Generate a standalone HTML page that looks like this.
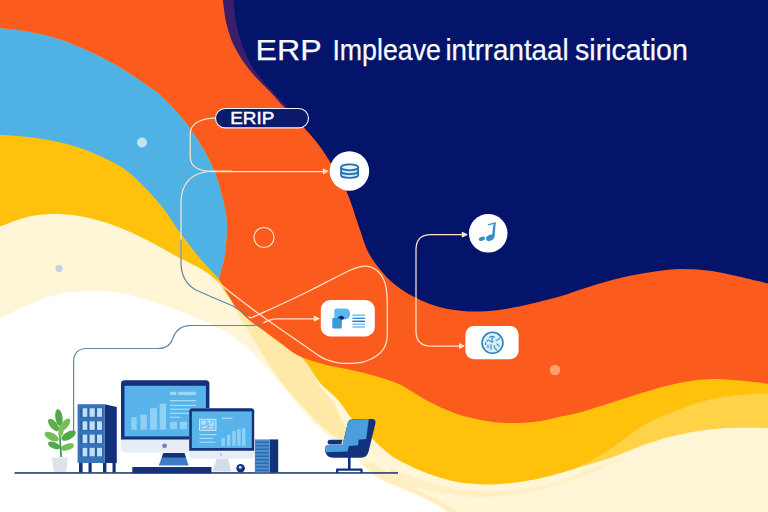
<!DOCTYPE html>
<html><head><meta charset="utf-8"><title>ERP</title>
<style>html,body{margin:0;padding:0;background:#fff;}body{width:768px;height:512px;overflow:hidden;font-family:"Liberation Sans",sans-serif;}svg{display:block;}</style>
</head><body>
<svg width="768" height="512" viewBox="0 0 768 512">
<rect width="768" height="512" fill="#FFFFFF"/>
<path fill="#FFF5D7" d="M-10.0,324.0 C-8.3,323.1 -6.7,321.8 0.0,318.5 C6.7,315.2 20.2,308.1 30.0,304.0 C39.8,299.9 49.3,296.2 59.0,294.0 C68.7,291.8 78.3,291.2 88.0,291.0 C97.7,290.8 107.3,291.1 117.0,292.5 C126.7,293.9 136.2,296.6 146.0,299.5 C155.8,302.4 167.0,306.7 176.0,310.0 C185.0,313.3 193.3,316.8 200.0,319.5 C206.7,322.2 210.8,323.9 216.0,326.5 C221.2,329.1 225.8,331.4 231.0,335.0 C236.2,338.6 242.3,343.8 247.0,348.0 C251.7,352.2 255.3,356.3 259.0,360.0 C262.7,363.7 264.5,365.0 269.0,370.0 C273.5,375.0 279.2,381.8 286.0,390.0 C292.8,398.2 302.8,411.3 310.0,419.0 C317.2,426.7 322.7,430.8 329.0,436.0 C335.3,441.2 342.5,445.3 348.0,450.0 C353.5,454.7 357.2,459.5 362.0,464.0 C366.8,468.5 370.3,472.9 377.0,477.0 C383.7,481.1 393.5,484.7 402.0,488.5 C410.5,492.3 419.7,495.8 428.0,500.0 C436.3,504.2 448.0,511.7 452.0,514.0 L452,530 L790,530 L790,-20 L-10,-20 Z"/>
<path fill="#FFE9A8" d="M232.0,304.0 C234.5,308.2 242.5,321.7 247.0,329.0 C251.5,336.3 255.0,341.5 259.0,348.0 C263.0,354.5 266.2,361.0 271.0,368.0 C275.8,375.0 280.8,381.5 288.0,390.0 C295.2,398.5 306.8,411.7 314.0,419.0 C321.2,426.3 325.8,430.2 331.0,434.0 C336.2,437.8 341.2,439.8 345.0,442.0 C348.8,444.2 352.5,446.2 354.0,447.0 L354.0,447.0 C353.2,444.8 351.2,438.7 349.0,434.0 C346.8,429.3 343.7,424.3 341.0,419.0 C338.3,413.7 336.3,407.2 333.0,402.0 C329.7,396.8 325.0,393.8 321.0,388.0 C317.0,382.2 313.0,372.8 309.0,367.0 C305.0,361.2 302.2,357.8 297.0,353.0 C291.8,348.2 283.8,342.3 278.0,338.0 C272.2,333.7 266.7,330.3 262.0,327.0 C257.3,323.7 255.0,321.8 250.0,318.0 C245.0,314.2 235.0,306.3 232.0,304.0 Z"/>
<path fill="#FFEFC0" d="M362.0,464.0 C364.5,466.2 370.3,472.9 377.0,477.0 C383.7,481.1 393.5,484.7 402.0,488.5 C410.5,492.3 419.7,495.8 428.0,500.0 C436.3,504.2 448.0,511.7 452.0,514.0 L462.0,514.0 C457.7,511.5 444.7,503.7 436.0,499.0 C427.3,494.3 418.0,490.3 410.0,486.0 C402.0,481.7 394.3,477.0 388.0,473.0 C381.7,469.0 374.7,463.8 372.0,462.0 Z"/>
<path fill="#FFEFC4" d="M390.0,467.0 C393.0,468.3 401.8,472.5 408.0,475.0 C414.2,477.5 419.2,479.7 427.0,482.0 C434.8,484.3 445.8,487.4 455.0,489.0 C464.2,490.6 473.0,491.2 482.0,491.5 C491.0,491.8 499.8,491.3 509.0,490.5 C518.2,489.7 527.8,488.3 537.0,486.5 C546.2,484.7 554.8,482.6 564.0,479.5 C573.2,476.4 582.0,471.8 592.0,468.0 C602.0,464.2 618.7,458.8 624.0,457.0 L624.0,458.5 C617.0,461.5 597.4,470.9 582.0,476.5 C566.6,482.1 548.3,488.6 531.5,492.0 C514.7,495.4 496.2,496.8 481.0,497.0 C465.8,497.2 451.8,494.8 440.0,493.0 C428.2,491.2 418.0,488.8 410.0,486.0 C402.0,483.2 395.0,477.7 392.0,476.0 Z"/>
<path fill="#FFD247" d="M575.0,468.5 C581.2,466.7 600.3,461.5 612.0,457.5 C623.7,453.5 633.8,448.3 645.0,444.5 C656.2,440.7 667.8,437.3 679.0,434.8 C690.2,432.3 701.0,430.5 712.0,429.3 C723.0,428.1 734.0,427.9 745.0,427.8 C756.0,427.7 772.5,428.4 778.0,428.5 L790,300 L575,300 Z"/>
<path fill="#FFC10B" d="M-10.0,230.0 C-8.3,229.4 -6.7,228.8 0.0,226.5 C6.7,224.2 20.0,218.4 30.0,216.3 C40.0,214.2 50.3,213.8 60.0,214.0 C69.7,214.2 78.5,215.7 88.0,217.8 C97.5,219.9 107.3,222.9 117.0,226.5 C126.7,230.1 136.2,234.7 146.0,239.6 C155.8,244.5 166.7,251.0 176.0,256.0 C185.3,261.0 195.2,265.3 202.0,269.5 C208.8,273.7 212.7,276.6 217.0,281.0 C221.3,285.4 224.5,291.2 228.0,296.0 C231.5,300.8 233.7,305.5 238.0,310.0 C242.3,314.5 249.0,319.0 254.0,323.0 C259.0,327.0 263.2,330.3 268.0,334.0 C272.8,337.7 278.2,341.9 283.0,345.0 C287.8,348.1 292.7,348.9 297.0,352.5 C301.3,356.1 305.2,361.5 309.0,366.6 C312.8,371.7 315.2,377.4 320.0,383.0 C324.8,388.6 332.7,394.0 338.0,400.0 C343.3,406.0 347.0,413.3 352.0,419.0 C357.0,424.7 363.2,429.3 368.0,434.0 C372.8,438.7 376.7,443.1 381.0,447.0 C385.3,450.9 389.5,454.5 394.0,457.5 C398.5,460.5 402.5,462.2 408.0,464.8 C413.5,467.4 419.2,470.4 427.0,473.2 C434.8,476.0 445.8,479.6 455.0,481.5 C464.2,483.4 473.0,484.1 482.0,484.4 C491.0,484.7 499.8,484.1 509.0,483.2 C518.2,482.3 527.8,480.9 537.0,479.0 C546.2,477.1 557.7,473.8 564.0,472.0 C570.3,470.2 573.2,469.1 575.0,468.5 L593.0,460.0 C596.2,458.0 603.3,453.9 612.0,448.0 C620.7,442.1 633.8,430.9 645.0,424.5 C656.2,418.1 667.8,413.8 679.0,409.5 C690.2,405.2 701.0,401.5 712.0,399.0 C723.0,396.5 734.0,395.5 745.0,394.5 C756.0,393.5 772.5,393.2 778.0,393.0 L790,-20 L-10,-20 Z"/>
<path fill="#4FB1E4" d="M-10.0,27.0 C-8.3,27.1 -6.5,27.1 0.0,27.9 C6.5,28.7 19.2,29.8 29.0,31.7 C38.8,33.5 49.2,35.8 59.0,39.0 C68.8,42.2 78.3,46.3 88.0,50.7 C97.7,55.1 107.3,59.8 117.0,65.4 C126.7,71.0 138.8,79.5 146.0,84.4 C153.2,89.3 154.7,89.9 160.0,94.6 C165.3,99.3 172.3,106.8 177.6,112.8 C182.9,118.8 187.2,124.2 191.6,130.4 C196.0,136.6 200.5,143.7 204.0,149.8 C207.5,156.0 210.4,162.1 212.7,167.3 C215.0,172.5 216.4,176.1 218.0,181.0 C219.6,185.9 221.2,191.7 222.5,197.0 C223.8,202.3 225.2,207.5 226.0,213.0 C226.8,218.5 227.2,223.0 227.0,230.0 C226.8,237.0 226.3,246.8 225.0,255.0 C223.7,263.2 220.0,275.0 219.0,279.0 L206.0,265.0 C204.0,262.7 198.5,256.7 194.0,251.0 C189.5,245.3 184.8,239.0 179.0,231.0 C173.2,223.0 167.3,212.8 159.0,203.0 C150.7,193.2 138.8,180.3 129.0,172.5 C119.2,164.7 110.3,160.8 100.0,156.0 C89.7,151.2 78.2,147.1 67.0,144.0 C55.8,140.9 44.2,139.0 33.0,137.5 C21.8,136.0 7.2,135.4 0.0,135.0 C-7.2,134.6 -8.3,135.0 -10.0,135.0 Z"/>
<path fill="#FB5B1C" d="M-10.0,27.0 C-8.3,27.1 -6.5,27.1 0.0,27.9 C6.5,28.7 19.2,29.8 29.0,31.7 C38.8,33.5 49.2,35.8 59.0,39.0 C68.8,42.2 78.3,46.3 88.0,50.7 C97.7,55.1 107.3,59.8 117.0,65.4 C126.7,71.0 138.8,79.5 146.0,84.4 C153.2,89.3 154.7,89.9 160.0,94.6 C165.3,99.3 172.3,106.8 177.6,112.8 C182.9,118.8 187.2,124.2 191.6,130.4 C196.0,136.6 200.5,143.7 204.0,149.8 C207.5,156.0 210.4,162.1 212.7,167.3 C215.0,172.5 216.4,176.1 218.0,181.0 C219.6,185.9 221.2,191.7 222.5,197.0 C223.8,202.3 225.2,207.5 226.0,213.0 C226.8,218.5 227.2,223.0 227.0,230.0 C226.8,237.0 226.3,246.8 225.0,255.0 C223.7,263.2 220.0,275.0 219.0,279.0 L234.0,305.0 C236.5,307.5 244.2,315.8 249.0,320.0 C253.8,324.2 258.2,326.5 263.0,330.0 C267.8,333.5 272.2,336.8 278.0,341.0 C283.8,345.2 290.5,351.7 298.0,355.5 C305.5,359.3 313.3,361.4 323.0,364.0 C332.7,366.6 346.5,368.8 356.0,371.0 C365.5,373.2 372.7,375.2 380.0,377.5 C387.3,379.8 392.2,380.8 400.0,384.6 C407.8,388.4 417.8,395.7 427.0,400.5 C436.2,405.3 445.8,410.0 455.0,413.3 C464.2,416.6 473.0,418.6 482.0,420.2 C491.0,421.8 499.8,422.8 509.0,423.0 C518.2,423.2 527.8,422.7 537.0,421.5 C546.2,420.3 556.8,417.5 564.0,416.0 C571.2,414.5 572.0,414.6 580.0,412.3 C588.0,410.1 601.2,405.9 612.0,402.5 C622.8,399.1 633.8,395.2 645.0,392.0 C656.2,388.8 667.8,385.2 679.0,383.0 C690.2,380.8 701.0,379.3 712.0,379.0 C723.0,378.7 734.0,380.0 745.0,381.0 C756.0,382.0 772.5,384.3 778.0,385.0 L790,-20 L-10,-20 Z"/>
<path fill="#3B1D6C" d="M222.0,-12.0 C222.2,-10.0 222.2,-5.9 222.9,0.0 C223.6,5.9 224.5,15.6 226.4,23.4 C228.3,31.2 230.7,39.1 234.6,46.9 C238.5,54.7 243.6,62.5 249.8,70.3 C256.0,78.1 266.5,87.8 272.0,93.7 C277.5,99.6 279.1,101.8 282.6,105.5 C286.1,109.2 291.3,114.2 293.0,116.0 L790,116 L790,-20 Z"/>
<path fill="#04146B" d="M232.5,-12.0 C232.7,-10.0 232.8,-5.9 233.4,0.0 C234.0,5.9 234.6,15.6 236.2,23.4 C237.8,31.2 239.8,39.1 242.8,46.9 C245.9,54.7 249.2,62.5 254.5,70.3 C259.8,78.1 269.1,87.8 274.4,93.7 C279.6,99.6 281.6,100.5 286.0,105.5 C290.4,110.5 295.2,116.9 301.0,124.0 C306.8,131.1 314.3,138.5 321.0,148.0 C327.7,157.5 336.2,172.3 341.0,181.0 C345.8,189.7 347.0,192.3 350.0,200.0 C353.0,207.7 355.5,217.5 359.0,227.0 C362.5,236.5 364.8,247.2 371.0,257.0 C377.2,266.8 386.2,277.7 396.0,285.5 C405.8,293.3 418.8,299.8 430.0,304.0 C441.2,308.2 451.8,310.0 463.0,311.0 C474.2,312.0 485.8,311.4 497.0,310.2 C508.2,309.0 519.0,306.4 530.0,304.0 C541.0,301.6 554.8,297.8 563.0,295.5 C571.2,293.2 570.8,292.6 579.0,290.0 C587.2,287.4 601.0,282.8 612.0,280.0 C623.0,277.2 633.8,274.8 645.0,273.0 C656.2,271.2 667.8,269.3 679.0,269.0 C690.2,268.7 701.0,269.5 712.0,271.0 C723.0,272.5 734.0,275.5 745.0,278.0 C756.0,280.5 772.5,284.7 778.0,286.0 L790,-20 Z"/>
<circle cx="142" cy="142.5" r="5" fill="#C4E3F5"/>
<circle cx="59" cy="268.5" r="3.6" fill="#BDD5E3"/>
<circle cx="555" cy="370" r="5.2" fill="#FFA272"/>
<circle cx="264" cy="237.5" r="10" fill="none" stroke="#FFE3C8" stroke-width="1.2"/>
<g fill="none" stroke="#FFE4CA" stroke-width="1.25" stroke-linecap="round" stroke-linejoin="round">
<path d="M216,118.1 C200,118.1 190.2,124 190.2,134 V156.8 C190.2,166 198,171.5 212.7,171.5 H326"/>
<path d="M323.5,169.2 L327.8,171.3 L323.5,173.4 Z" fill="#FFE4CA"/>
<path d="M232,171 H212 Q181,173 181,203 V262 Q181,282 196,290"/>
<path d="M249.0,316.0 C249.5,316.2 248.2,318.6 252.0,317.4 C255.8,316.1 265.3,311.5 272.0,308.5 C278.7,305.5 285.3,302.5 292.0,299.3 C298.7,296.1 305.3,292.8 312.0,289.5 C318.7,286.2 325.7,282.5 332.0,279.3 C338.3,276.1 345.7,272.3 350.0,270.3 C354.3,268.3 355.3,268.0 358.0,267.3 C360.7,266.6 363.3,266.0 366.0,266.2 C368.7,266.4 371.6,267.2 374.0,268.5 C376.4,269.8 378.7,271.6 380.5,274.0 C382.3,276.4 383.9,279.3 385.0,283.0 C386.1,286.7 386.6,290.2 387.0,296.0 C387.4,301.8 387.2,310.8 387.2,318.0 C387.2,325.2 387.5,334.0 387.0,339.0 C386.5,344.0 385.4,345.4 384.0,348.0 C382.6,350.6 380.8,352.6 378.5,354.5 C376.2,356.4 373.1,358.1 370.0,359.5 C366.9,360.9 363.6,362.0 360.0,362.6 C356.4,363.2 352.4,363.4 348.7,363.4 C345.0,363.4 341.4,363.3 338.0,362.8 C334.6,362.3 331.2,361.4 328.0,360.2 C324.8,359.0 323.9,358.9 318.7,355.6 C313.5,352.3 304.2,345.5 297.0,340.5 C289.8,335.5 282.3,330.4 275.3,325.5 C268.3,320.6 261.7,315.9 255.0,311.0 C248.3,306.1 241.6,300.9 235.3,296.0 C229.0,291.1 220.1,283.9 217.0,281.5"/>
<path d="M263,323.2 Q269,319 278,318.8 H317"/>
<path d="M314.4,316.4 L318.8,318.6 L314.4,320.8 Z" fill="#FFE4CA"/>
<path d="M465,234.6 H431 Q416,234.6 416,249.6 V331 Q416,346 431,346 H462"/>
<path d="M462.4,232.5 L466.8,234.6 L462.4,236.7 Z" fill="#FFE4CA"/>
<path d="M459.6,343.8 L464,346 L459.6,348.2 Z" fill="#FFE4CA"/>
</g>
<g fill="none" stroke="#66869E" stroke-width="1.2" stroke-linecap="round">
<path d="M181,240 V262 Q181,282 196,290 Q215,298.5 233,306 L249,316"/>
<path d="M73.6,436 V362 Q73.6,348.5 87,348.5 H158 Q170,348.5 173,338 Q177,326 190,325.5 H250 Q258,325.6 263,323.2"/>
</g>
<rect x="215.5" y="108.5" width="93" height="19.4" rx="9.7" fill="#0B1B6B" stroke="#F2F4FA" stroke-width="1.15"/>
<text x="230.3" y="123.7" font-family="Liberation Sans, sans-serif" font-size="16.2" fill="#FFFFFF" stroke="#FFFFFF" stroke-width="0.45" textLength="44" lengthAdjust="spacingAndGlyphs">ERIP</text>
<text x="255.6" y="60.1" font-family="Liberation Sans, sans-serif" font-size="29.8" fill="#F7F9FF" stroke="#F7F9FF" stroke-width="0.25" textLength="66.0" lengthAdjust="spacingAndGlyphs">ERP</text>
<text x="332.4" y="60.1" font-family="Liberation Sans, sans-serif" font-size="29.6" fill="#F7F9FF" stroke="#F7F9FF" stroke-width="0.25" textLength="108.6" lengthAdjust="spacingAndGlyphs">Impleave</text>
<text x="445.4" y="60.1" font-family="Liberation Sans, sans-serif" font-size="29.6" fill="#F7F9FF" stroke="#F7F9FF" stroke-width="0.25" textLength="123.2" lengthAdjust="spacingAndGlyphs">intrrantaal</text>
<text x="575.0" y="60.1" font-family="Liberation Sans, sans-serif" font-size="29.6" fill="#F7F9FF" stroke="#F7F9FF" stroke-width="0.25" textLength="112.8" lengthAdjust="spacingAndGlyphs">sirication</text>
<circle cx="349.4" cy="171" r="19.8" fill="#FFFFFF"/>
<g fill="none" stroke="#2270AE" stroke-width="1.7">
<path d="M341,167.3 V175 A8.6,3 0 0 0 358.2,175 V167.3 Z" fill="#CFE6F6" stroke="none"/>
<ellipse cx="349.6" cy="167.3" rx="8.6" ry="3" fill="#E8F3FB"/>
<path d="M341,167.3 V175 A8.6,3 0 0 0 358.2,175 V167.3"/>
<path d="M341,171.2 A8.6,3 0 0 0 358.2,171.2"/>
</g>
<circle cx="488.2" cy="233.3" r="19.3" fill="#FFFFFF"/>
<g fill="#348FCC">
<path d="M493.7,222.9 L495.7,222.2 L494.6,237.4 L491.6,238 Z"/>
<path d="M487.8,224.2 L495.6,222.2 L495.5,223.6 L488,225.6 Z"/>
<ellipse cx="489.9" cy="237.9" rx="4" ry="2.9" transform="rotate(-25 489.9 237.9)"/>
<ellipse cx="481.9" cy="238.8" rx="3.2" ry="2" transform="rotate(-18 481.9 238.8)"/>
</g>
<rect x="320.8" y="300" width="54" height="36.4" rx="9.5" fill="#FFFFFF"/>
<path fill="#5BB8EE" d="M336.5,308.4 H345 Q350,308.4 350,313.8 Q350,319.4 345,319.4 H341.8 V323 H334.3 V310.6 Q334.3,308.4 336.5,308.4 Z"/>
<path fill="#3B9ADA" d="M332.3,318 H341.8 V327.6 Q341.8,328.6 340.8,328.6 H333.3 Q332.3,328.6 332.3,327.6 Z"/>
<path fill="#0D2A73" d="M337.5,317.2 L341.6,315.6 L344.6,317.4 Q343.5,319.9 340.8,319.6 Z"/>
<g stroke-width="1.4" fill="none">
<path stroke="#6BBDED" d="M352.4,315.2 H365"/>
<path stroke="#3A8FD0" d="M352.4,318.3 H365"/>
<path stroke="#2B6FB8" d="M352.4,321.3 H365"/>
<path stroke="#6BBDED" d="M352.4,324.2 H365"/>
<path stroke="#6BBDED" d="M352.4,327 H365"/>
</g>
<rect x="465.4" y="326" width="53.2" height="33.2" rx="8.5" fill="#FFFFFF"/>
<circle cx="492.5" cy="342.8" r="10.5" fill="#D9EEF9" stroke="#2B86B6" stroke-width="1.6"/>
<g fill="none" stroke="#3C93C5" stroke-width="1.2" stroke-linecap="round">
<path d="M489.5,337.2 q2.5,-1.6 5,0 M492,336.6 v4.2 M487,341 q1.6,-1.8 3,0 t3,0.5 M496.2,340.5 q2.6,-0.6 3.3,-2.6 M496.8,343.8 l2.2,2.2 M488,345 v2.6 M491,344.6 v4.6 M494.2,345.5 q0.2,3.4 2.6,4.6 M485.6,342.5 v2"/>
</g>
<rect x="14.5" y="472.2" width="383.5" height="1.5" fill="#1B2F6B"/>
<path fill="#DDE3EC" d="M51.8,457.6 H68 L66,471.2 Q66,472 65,472 H55 Q54,472 53.8,471.2 Z"/>
<path d="M60.3,457 Q58.6,440 59.6,424 L60.8,424 Q60.4,441 62,457 Z" fill="#3E8E45"/>
<ellipse cx="58.9" cy="417.5" rx="3.6" ry="8.4" transform="rotate(-8 58.9 417.5)" fill="#55A74C"/>
<ellipse cx="65.0" cy="424.6" rx="3.4" ry="7.4" transform="rotate(38 65.0 424.6)" fill="#74BF55"/>
<ellipse cx="53.6" cy="425.0" rx="3.6" ry="7.6" transform="rotate(-40 53.6 425.0)" fill="#5DAE4F"/>
<ellipse cx="51.6" cy="436.6" rx="3.7" ry="7.8" transform="rotate(-62 51.6 436.6)" fill="#74BF55"/>
<ellipse cx="68.6" cy="435.6" rx="3.8" ry="8.0" transform="rotate(60 68.6 435.6)" fill="#55A74C"/>
<ellipse cx="54.2" cy="445.4" rx="3.2" ry="6.6" transform="rotate(-68 54.2 445.4)" fill="#55A74C"/>
<ellipse cx="67.4" cy="447.0" rx="3.2" ry="6.8" transform="rotate(72 67.4 447.0)" fill="#74BF55"/>
<ellipse cx="61.0" cy="431.0" rx="2.6" ry="6.0" transform="rotate(10 61.0 431.0)" fill="#78C653"/>
<path fill="#14317B" d="M104.5,404.2 L116.8,407 V463 H104.5 Z"/>
<rect x="77.6" y="404.2" width="27" height="58.8" fill="#3574BB"/>
<rect x="79" y="463" width="3.6" height="9.5" fill="#14317B"/><rect x="88.5" y="463" width="3.2" height="9.5" fill="#14317B"/><rect x="103" y="463" width="3.4" height="9.5" fill="#14317B"/><rect x="112.5" y="463" width="3.2" height="9.5" fill="#14317B"/>
<rect x="80.3" y="407.9" width="22.4" height="9.4" fill="#2A5FA8"/>
<rect x="82.6" y="408.2" width="4.7" height="8.6" fill="#BFE0F4"/>
<rect x="89.5" y="408.2" width="5.3" height="8.6" fill="#BFE0F4"/>
<rect x="97.0" y="408.2" width="5.0" height="8.6" fill="#BFE0F4"/>
<rect x="80.3" y="421.0" width="22.4" height="9.4" fill="#2A5FA8"/>
<rect x="82.6" y="421.3" width="4.7" height="8.6" fill="#BFE0F4"/>
<rect x="89.5" y="421.3" width="5.3" height="8.6" fill="#BFE0F4"/>
<rect x="97.0" y="421.3" width="5.0" height="8.6" fill="#BFE0F4"/>
<rect x="80.3" y="434.2" width="22.4" height="9.4" fill="#2A5FA8"/>
<rect x="82.6" y="434.5" width="4.7" height="8.6" fill="#BFE0F4"/>
<rect x="89.5" y="434.5" width="5.3" height="8.6" fill="#BFE0F4"/>
<rect x="97.0" y="434.5" width="5.0" height="8.6" fill="#BFE0F4"/>
<rect x="80.3" y="447.5" width="22.4" height="9.4" fill="#2A5FA8"/>
<rect x="82.6" y="447.8" width="4.7" height="8.6" fill="#BFE0F4"/>
<rect x="89.5" y="447.8" width="5.3" height="8.6" fill="#BFE0F4"/>
<rect x="97.0" y="447.8" width="5.0" height="8.6" fill="#BFE0F4"/>
<path fill="#3B7CC6" d="M158.8,465.4 L163.4,453 H184.4 L188.6,465.4 Z"/>
<path fill="#14317B" d="M161.8,457.5 L163.4,453 H184.4 L186,457.5 Z"/>
<rect x="132.3" y="467" width="79.2" height="6.3" fill="#14317B"/>
<rect x="121" y="380.2" width="88.4" height="72.2" rx="3.5" fill="#E7EDF7"/>
<path fill="#14317B" d="M124.5,380.2 H205.9 Q209.4,380.2 209.4,383.7 V439.4 H121 V383.7 Q121,380.2 124.5,380.2 Z"/>
<rect x="124.5" y="385.8" width="81.4" height="50.6" fill="#57B3EA"/>
<circle cx="164.6" cy="445.8" r="2.4" fill="#6F84BD"/>
<rect x="131.3" y="417.2" width="5.4" height="12.5" fill="#8FD0F5"/>
<rect x="140.4" y="414.5" width="6.4" height="15.2" fill="#8FD0F5"/>
<rect x="150.0" y="408.2" width="7.0" height="21.5" fill="#8FD0F5"/>
<rect x="159.6" y="403.6" width="6.4" height="26.1" fill="#8FD0F5"/>
<rect x="169.8" y="391.7" width="6.5" height="3.4" fill="#9ED5F3"/><rect x="178" y="391.7" width="18" height="3.4" fill="#9ED5F3"/>
<rect x="170" y="400.0" width="26.0" height="1.3" fill="#A6DAF6"/>
<rect x="170" y="404.8" width="26.0" height="1.3" fill="#A6DAF6"/>
<rect x="170" y="408.6" width="26.0" height="1.3" fill="#A6DAF6"/>
<rect x="170" y="412.6" width="26.0" height="1.3" fill="#A6DAF6"/>
<rect x="170" y="416.6" width="10.0" height="1.3" fill="#A6DAF6"/>
<rect x="170" y="421.7" width="7" height="7.5" fill="#8FD0F5"/><rect x="180" y="421.7" width="7" height="7.5" fill="#8FD0F5"/>
<path fill="#D3DCEA" d="M212.5,471.4 L216.7,458.6 H228 L231.2,471.4 Z"/>
<rect x="189.2" y="408.3" width="65" height="50.5" rx="3" fill="#E7EDF7"/>
<path fill="#14317B" d="M192.2,408.3 H251.2 Q254.2,408.3 254.2,411.3 V450.8 H189.2 V411.3 Q189.2,408.3 192.2,408.3 Z"/>
<rect x="191.8" y="411.4" width="60" height="36.6" fill="#57B3EA"/>
<rect x="199.6" y="419.2" width="16.4" height="11.2" fill="#7CC6F0" stroke="#D5EEFB" stroke-width="0.8"/>
<path d="M202,421.5 h3 v2.5 h-3 z M207.5,421.2 h2.5 v4 h3 v-3.5 M202,427.5 h4 v-2 M209,428 h4" stroke="#D5EEFB" stroke-width="1" fill="none"/>
<rect x="199.4" y="434.0" width="17" height="1.2" fill="#A6DAF6"/>
<rect x="199.4" y="437.8" width="14" height="1.2" fill="#A6DAF6"/>
<rect x="199.4" y="441.6" width="16" height="1.2" fill="#A6DAF6"/>
<rect x="222" y="417.6" width="10.5" height="1.3" fill="#A6DAF6"/>
<rect x="221.5" y="438.0" width="3.4" height="7.8" fill="#8FD0F5"/>
<rect x="227.0" y="434.8" width="3.4" height="11.0" fill="#8FD0F5"/>
<rect x="232.3" y="431.0" width="3.4" height="14.8" fill="#8FD0F5"/>
<rect x="237.2" y="429.2" width="3.4" height="16.6" fill="#8FD0F5"/>
<rect x="242.0" y="428.2" width="3.4" height="17.6" fill="#8FD0F5"/>
<rect x="220.6" y="453" width="0.9" height="3" fill="#8FA3C8"/>
<circle cx="240.6" cy="468.2" r="4.3" fill="#14317B"/><circle cx="240.2" cy="467.2" r="1.5" fill="#BFD6F0"/>
<rect x="269.8" y="439.4" width="8.4" height="33" fill="#14317B"/>
<rect x="254.8" y="439.4" width="15" height="33" fill="#4C8FCE"/>
<rect x="255.6" y="441.5" width="13.4" height="1.5" fill="#2F68AE"/>
<rect x="255.6" y="445.0" width="13.4" height="1.5" fill="#2F68AE"/>
<rect x="255.6" y="448.5" width="13.4" height="1.5" fill="#2F68AE"/>
<rect x="255.6" y="452.0" width="13.4" height="1.5" fill="#2F68AE"/>
<rect x="255.6" y="455.5" width="13.4" height="1.5" fill="#2F68AE"/>
<rect x="255.6" y="459.0" width="13.4" height="1.5" fill="#2F68AE"/>
<rect x="255.6" y="462.5" width="13.4" height="1.5" fill="#2F68AE"/>
<rect x="255.6" y="466.0" width="13.4" height="1.5" fill="#2F68AE"/>
<rect x="255.6" y="469.5" width="13.4" height="1.5" fill="#2F68AE"/>
<rect x="348" y="457" width="2.6" height="12" fill="#14317B"/>
<path fill="#14317B" d="M336,473 V469.6 Q336,468.6 337,468.6 H361.5 Q362.6,468.6 362.6,469.6 V473 H360.4 V470.7 H338.3 V473 Z"/>
<path fill="#14317B" d="M351.5,419.6 L371.6,418.9 Q376.4,418.8 375.4,423.4 L368.6,451.6 Q367,457.8 361,457.8 H333.5 Q325.6,457.6 325,450 V446.9 L327.8,445 H342.5 L347.8,423 Q348.6,419.8 351.5,419.6 Z"/>
<path fill="#4A9EDB" d="M351.8,419.7 L368.8,419.1 L366.2,439 L358.6,439.8 L358,445.3 L348.9,446.1 L347.6,451.6 L326,452.2 Q324.8,449.5 325,447.4 Q325.4,445 327.8,445 H342.5 L347.9,423 Q348.7,419.9 351.8,419.7 Z"/>
<path fill="#14317B" d="M329.6,439.8 H342.4 L341.4,444.6 H329.6 Q327.6,444.4 327.6,442.2 Q327.6,440 329.6,439.8 Z"/>
</svg>
</body></html>
